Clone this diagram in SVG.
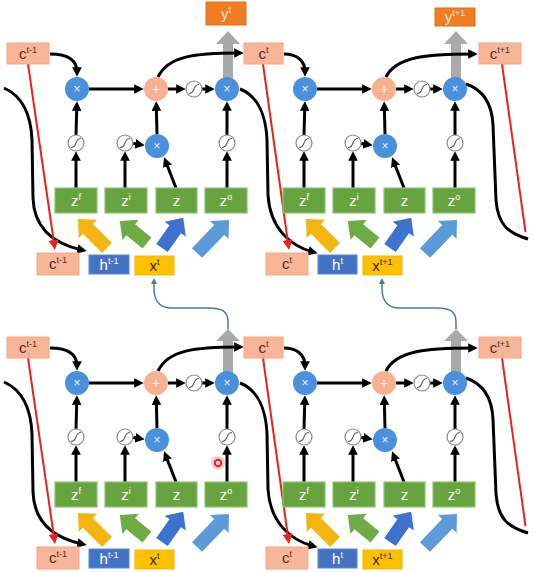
<svg xmlns="http://www.w3.org/2000/svg" xmlns:xlink="http://www.w3.org/1999/xlink" width="552" height="572" viewBox="0 0 552 572">
<style>
text{font-family:"Liberation Sans","DejaVu Sans",sans-serif;text-anchor:middle}
.sup{font-size:9px}
.cbox{fill:#f8b597;stroke:#f2a888;stroke-width:1}
.ct{fill:#4a3025;font-size:15px}
.ybox{fill:#ef7d22;stroke:#e27018;stroke-width:1}
.yt{fill:#fde6d4;font-size:15px}
.gate{fill:#67a43f;stroke:#92c472;stroke-width:1.2}
.gt{fill:#ffffff;font-size:15px}
.hbox{fill:#4472c4;stroke:#5a86d0;stroke-width:1}
.ht{fill:#ffffff;font-size:15px}
.xbox{fill:#ffc000;stroke:#f5b800;stroke-width:1}
.xt{fill:#3a2a00;font-size:15px}
.mul{fill:#4a90dc}
.add{fill:#f7b191}
.op{fill:#e4effb;font-size:12px}
.opa{fill:#fde8dc;font-size:14px}
.sc{fill:#ffffff;stroke:#8a8a8a;stroke-width:1.2}
.sp{fill:none;stroke:#666666;stroke-width:1.2}
.blk{fill:none;stroke:#000000;stroke-width:3;marker-end:url(#ah)}
.blkn{fill:none;stroke:#000000;stroke-width:3}
.red{fill:none;stroke:#e8231f;stroke-width:2;marker-end:url(#rh)}
.redn{fill:none;stroke:#e8231f;stroke-width:2}
.blu{fill:none;stroke:#4a78a8;stroke-width:1.5;marker-end:url(#bh)}
.gray{fill:#a9a9a9}
</style>
<defs>
<marker id="ah" viewBox="0 0 10 10" refX="5" refY="5" markerWidth="3.2" markerHeight="3.2" orient="auto"><path d="M0,0 L10,5 L0,10 z" fill="#000000"/></marker>
<marker id="rh" viewBox="0 0 10 10" refX="5" refY="5" markerWidth="5" markerHeight="5" orient="auto"><path d="M0,0 L10,5 L0,10 z" fill="#e8231f"/></marker>
<marker id="bh" viewBox="0 0 10 10" refX="5" refY="5" markerWidth="4" markerHeight="4" orient="auto"><path d="M0,0 L10,5 L0,10 z" fill="#4a78a8"/></marker>
<g id="sig"><circle class="sc" cx="0" cy="0" r="8"/><path class="sp" d="M-5,4.5 C-2,4.5 -1,3 0,0 C1,-3 2,-4.5 5,-4.5"/></g>
</defs>

<g id="connectors">
  <!-- gray output arrows -->
  <path class="gray" d="M228,31 L240,44 L233,44 L233,80 L223,80 L223,44 L216,44 Z"/>
  <path class="gray" d="M456,31 L468,44 L461,44 L461,80 L451,80 L451,44 L444,44 Z"/>
  <path class="gray" d="M228,329 L240,341 L233,341 L233,374 L223,374 L223,341 L216,341 Z"/>
  <path class="gray" d="M456,329 L468,341 L461,341 L461,374 L451,374 L451,341 L444,341 Z"/>
  <!-- blue links between layers -->
  <path class="blu" d="M228,329 L228,322 C228,311 222,308 208,308 L172,308 C158,308 154,300 154,288 L154,281"/>
  <path class="blu" d="M456,329 L456,322 C456,311 450,308 436,308 L400,308 C386,308 382,300 382,288 L382,281"/>

  <!-- row 1 / row 2 local connectors -->
  <g id="local" >
    <g transform="translate(0,0)">
      <path class="blk" d="M89,89 L139,89"/>
      <path class="blk" d="M168,89 L181,89"/>
      <path class="blk" d="M202,89 L210,89"/>
      <path class="blk" d="M76,188 L76,156"/>
      <path class="blk" d="M76,135 L76.8,106"/>
      <path class="blk" d="M125,188 L125,156"/>
      <path class="blk" d="M133,143.5 L140,144.6"/>
      <path class="blk" d="M176,188 L165.8,161.7"/>
      <path class="blk" d="M157,134 L156.3,106"/>
      <path class="blk" d="M227,188 L227,156"/>
      <path class="blk" d="M227,135 L227,106"/>
      <path fill="#f4b512" d="M0,-7 L27,-7 L27,-13 L41,0 L27,13 L27,7 L0,7 Z" transform="translate(107,248) rotate(-135)"/>
      <path fill="#6fac46" d="M0,-7 L21,-7 L21,-13 L35,0 L21,13 L21,7 L0,7 Z" transform="translate(147,243) rotate(-141)"/>
      <path fill="#3d72cf" d="M0,-7 L23,-7 L23,-13 L37,0 L23,13 L23,7 L0,7 Z" transform="translate(162,248) rotate(-55)"/>
      <path fill="#5b9bd9" d="M0,-7 L32,-7 L32,-13 L46,0 L32,13 L32,7 L0,7 Z" transform="translate(197,253) rotate(-46)"/>
    </g>
    <g transform="translate(228,0)">
      <path class="blk" d="M89,89 L139,89"/>
      <path class="blk" d="M168,89 L181,89"/>
      <path class="blk" d="M202,89 L210,89"/>
      <path class="blk" d="M76,188 L76,156"/>
      <path class="blk" d="M76,135 L76.8,106"/>
      <path class="blk" d="M125,188 L125,156"/>
      <path class="blk" d="M133,143.5 L140,144.6"/>
      <path class="blk" d="M176,188 L165.8,161.7"/>
      <path class="blk" d="M157,134 L156.3,106"/>
      <path class="blk" d="M227,188 L227,156"/>
      <path class="blk" d="M227,135 L227,106"/>
      <path fill="#f4b512" d="M0,-7 L27,-7 L27,-13 L41,0 L27,13 L27,7 L0,7 Z" transform="translate(107,248) rotate(-135)"/>
      <path fill="#6fac46" d="M0,-7 L21,-7 L21,-13 L35,0 L21,13 L21,7 L0,7 Z" transform="translate(147,243) rotate(-141)"/>
      <path fill="#3d72cf" d="M0,-7 L23,-7 L23,-13 L37,0 L23,13 L23,7 L0,7 Z" transform="translate(162,248) rotate(-55)"/>
      <path fill="#5b9bd9" d="M0,-7 L32,-7 L32,-13 L46,0 L32,13 L32,7 L0,7 Z" transform="translate(197,253) rotate(-46)"/>
    </g>
    <g transform="translate(0,294)">
      <path class="blk" d="M89,89 L139,89"/>
      <path class="blk" d="M168,89 L181,89"/>
      <path class="blk" d="M202,89 L210,89"/>
      <path class="blk" d="M76,188 L76,156"/>
      <path class="blk" d="M76,135 L76.8,106"/>
      <path class="blk" d="M125,188 L125,156"/>
      <path class="blk" d="M133,143.5 L140,144.6"/>
      <path class="blk" d="M176,188 L165.8,161.7"/>
      <path class="blk" d="M157,134 L156.3,106"/>
      <path class="blk" d="M227,188 L227,156"/>
      <path class="blk" d="M227,135 L227,106"/>
      <path fill="#f4b512" d="M0,-7 L27,-7 L27,-13 L41,0 L27,13 L27,7 L0,7 Z" transform="translate(107,248) rotate(-135)"/>
      <path fill="#6fac46" d="M0,-7 L21,-7 L21,-13 L35,0 L21,13 L21,7 L0,7 Z" transform="translate(147,243) rotate(-141)"/>
      <path fill="#3d72cf" d="M0,-7 L23,-7 L23,-13 L37,0 L23,13 L23,7 L0,7 Z" transform="translate(162,248) rotate(-55)"/>
      <path fill="#5b9bd9" d="M0,-7 L32,-7 L32,-13 L46,0 L32,13 L32,7 L0,7 Z" transform="translate(197,253) rotate(-46)"/>
    </g>
    <g transform="translate(228,294)">
      <path class="blk" d="M89,89 L139,89"/>
      <path class="blk" d="M168,89 L181,89"/>
      <path class="blk" d="M202,89 L210,89"/>
      <path class="blk" d="M76,188 L76,156"/>
      <path class="blk" d="M76,135 L76.8,106"/>
      <path class="blk" d="M125,188 L125,156"/>
      <path class="blk" d="M133,143.5 L140,144.6"/>
      <path class="blk" d="M176,188 L165.8,161.7"/>
      <path class="blk" d="M157,134 L156.3,106"/>
      <path class="blk" d="M227,188 L227,156"/>
      <path class="blk" d="M227,135 L227,106"/>
      <path fill="#f4b512" d="M0,-7 L27,-7 L27,-13 L41,0 L27,13 L27,7 L0,7 Z" transform="translate(107,248) rotate(-135)"/>
      <path fill="#6fac46" d="M0,-7 L21,-7 L21,-13 L35,0 L21,13 L21,7 L0,7 Z" transform="translate(147,243) rotate(-141)"/>
      <path fill="#3d72cf" d="M0,-7 L23,-7 L23,-13 L37,0 L23,13 L23,7 L0,7 Z" transform="translate(162,248) rotate(-55)"/>
      <path fill="#5b9bd9" d="M0,-7 L32,-7 L32,-13 L46,0 L32,13 L32,7 L0,7 Z" transform="translate(197,253) rotate(-46)"/>
    </g>
  </g>

  <!-- cross-cell connectors, both rows -->
  <g id="cross-top">
    <path class="blk" d="M50,54 C68,54 77,60 77,72"/>
    <path class="blk" d="M284,54 C296,54 305,60 305,72"/>
    <path class="blk" d="M158,77 C168,56 195,53 239,53"/>
    <path class="blk" d="M386,77 C396,57 425,54 473,54"/>
    <path class="blk" d="M4,88 C22,96 31,115 32,140 L33,198 C34,230 55,244 82,250"/>
    <path class="blk" d="M240,89 C258,96 266,116 267,140 L268,195 C270,228 290,246 313,252"/>
    <path class="blkn" d="M466,84 C484,90 492,105 493,125 L496,200 C498,225 508,233 528,239"/>
    <path class="red" d="M28,64 L54.3,245"/>
    <path class="red" d="M263,64 L288.3,245"/>
    <path class="redn" d="M502,64 L525.5,232"/>
  </g>
  <g id="cross-bottom" transform="translate(0,294)">
    <path class="blk" d="M50,54 C68,54 77,60 77,72"/>
    <path class="blk" d="M284,54 C296,54 305,60 305,72"/>
    <path class="blk" d="M158,77 C168,56 195,53 239,53"/>
    <path class="blk" d="M386,77 C396,57 425,54 473,54"/>
    <path class="blk" d="M4,88 C22,96 31,115 32,140 L33,198 C34,230 55,244 82,250"/>
    <path class="blk" d="M240,89 C258,96 266,116 267,140 L268,195 C270,228 290,246 313,252"/>
    <path class="blkn" d="M466,84 C484,90 492,105 493,125 L496,200 C498,225 508,233 528,239"/>
    <path class="red" d="M28,64 L54.3,245"/>
    <path class="red" d="M263,64 L288.3,245"/>
    <path class="redn" d="M502,64 L525.5,232"/>
  </g>
</g>

<!-- memory boxes, outputs -->
<g id="c-tm1-top"><rect class="cbox" x="7" y="43" width="42" height="21"/><text class="ct" x="28" y="59">c<tspan class="sup" dy="-6">t-1</tspan></text></g>
<g id="c-t-top"><rect class="cbox" x="244" y="43" width="39" height="21"/><text class="ct" x="263.5" y="59">c<tspan class="sup" dy="-6">t</tspan></text></g>
<g id="c-tp1-top"><rect class="cbox" x="479" y="43" width="42" height="21"/><text class="ct" x="500" y="59">c<tspan class="sup" dy="-6">t+1</tspan></text></g>
<g id="y-t"><rect class="ybox" x="206" y="2" width="40" height="23"/><text class="yt" x="226" y="19">y<tspan class="sup" dy="-6">t</tspan></text></g>
<g id="y-tp1"><rect class="ybox" x="435" y="8" width="40" height="18"/><text class="yt" x="455" y="22">y<tspan class="sup" dy="-6">t+1</tspan></text></g>
<g id="c-tm1-bot"><rect class="cbox" x="7" y="337" width="42" height="21"/><text class="ct" x="28" y="353">c<tspan class="sup" dy="-6">t-1</tspan></text></g>
<g id="c-t-bot"><rect class="cbox" x="244" y="337" width="39" height="21"/><text class="ct" x="263.5" y="353">c<tspan class="sup" dy="-6">t</tspan></text></g>
<g id="c-tp1-bot"><rect class="cbox" x="479" y="337" width="42" height="21"/><text class="ct" x="500" y="353">c<tspan class="sup" dy="-6">t+1</tspan></text></g>

<!-- cells -->
<g id="cell-top-1">
  <g id="t1-mulf"><circle class="mul" cx="77" cy="89" r="12"/><text class="op" x="77" y="93">×</text></g>
  <g id="t1-add"><circle class="add" cx="156" cy="89" r="12"/><text class="opa" x="156" y="94">+</text></g>
  <g id="t1-tanh"><use href="#sig" x="194" y="89"/></g>
  <g id="t1-mulo"><circle class="mul" cx="227" cy="89" r="12"/><text class="op" x="227" y="93">×</text></g>
  <g id="t1-sf"><use href="#sig" x="76" y="143"/></g>
  <g id="t1-si"><use href="#sig" x="125" y="143"/></g>
  <g id="t1-muli"><circle class="mul" cx="157" cy="146" r="12"/><text class="op" x="157" y="150">×</text></g>
  <g id="t1-so"><use href="#sig" x="227" y="143"/></g>
  <g id="t1-zf"><rect class="gate" x="55" y="188" width="42" height="25"/><text class="gt" x="76" y="206">z<tspan class="sup" dy="-6">f</tspan></text></g>
  <g id="t1-zi"><rect class="gate" x="105" y="188" width="42" height="25"/><text class="gt" x="126" y="206">z<tspan class="sup" dy="-6">i</tspan></text></g>
  <g id="t1-z"><rect class="gate" x="156" y="188" width="41" height="25"/><text class="gt" x="176.5" y="206">z</text></g>
  <g id="t1-zo"><rect class="gate" x="205" y="188" width="42" height="25"/><text class="gt" x="226" y="206">z<tspan class="sup" dy="-6">o</tspan></text></g>
  <g id="t1-cin"><rect class="cbox" x="37" y="253" width="42" height="22"/><text class="ct" x="58" y="269">c<tspan class="sup" dy="-6">t-1</tspan></text></g>
  <g id="t1-h"><rect class="hbox" x="89" y="255" width="40" height="19"/><text class="ht" x="109" y="270">h<tspan class="sup" dy="-6">t-1</tspan></text></g>
  <g id="t1-x"><rect class="xbox" x="135" y="256" width="39" height="19"/><text class="xt" x="154.5" y="271">x<tspan class="sup" dy="-6">t</tspan></text></g>
</g>
<g id="cell-top-2" transform="translate(228,0)">
  <g id="t2-mulf"><circle class="mul" cx="77" cy="89" r="12"/><text class="op" x="77" y="93">×</text></g>
  <g id="t2-add"><circle class="add" cx="156" cy="89" r="12"/><text class="opa" x="156" y="94">+</text></g>
  <g id="t2-tanh"><use href="#sig" x="194" y="89"/></g>
  <g id="t2-mulo"><circle class="mul" cx="227" cy="89" r="12"/><text class="op" x="227" y="93">×</text></g>
  <g id="t2-sf"><use href="#sig" x="76" y="143"/></g>
  <g id="t2-si"><use href="#sig" x="125" y="143"/></g>
  <g id="t2-muli"><circle class="mul" cx="157" cy="146" r="12"/><text class="op" x="157" y="150">×</text></g>
  <g id="t2-so"><use href="#sig" x="227" y="143"/></g>
  <g id="t2-zf"><rect class="gate" x="55" y="188" width="42" height="25"/><text class="gt" x="76" y="206">z<tspan class="sup" dy="-6">f</tspan></text></g>
  <g id="t2-zi"><rect class="gate" x="105" y="188" width="42" height="25"/><text class="gt" x="126" y="206">z<tspan class="sup" dy="-6">i</tspan></text></g>
  <g id="t2-z"><rect class="gate" x="156" y="188" width="41" height="25"/><text class="gt" x="176.5" y="206">z</text></g>
  <g id="t2-zo"><rect class="gate" x="205" y="188" width="42" height="25"/><text class="gt" x="226" y="206">z<tspan class="sup" dy="-6">o</tspan></text></g>
  <g id="t2-cin"><rect class="cbox" x="38" y="253" width="42" height="22"/><text class="ct" x="59" y="269">c<tspan class="sup" dy="-6">t</tspan></text></g>
  <g id="t2-h"><rect class="hbox" x="90" y="255" width="39" height="19"/><text class="ht" x="109.5" y="270">h<tspan class="sup" dy="-6">t</tspan></text></g>
  <g id="t2-x"><rect class="xbox" x="135" y="256" width="39" height="19"/><text class="xt" x="154.5" y="271">x<tspan class="sup" dy="-6">t+1</tspan></text></g>
</g>
<g id="cell-bot-1" transform="translate(0,294)">
  <g id="b1-mulf"><circle class="mul" cx="77" cy="89" r="12"/><text class="op" x="77" y="93">×</text></g>
  <g id="b1-add"><circle class="add" cx="156" cy="89" r="12"/><text class="opa" x="156" y="94">+</text></g>
  <g id="b1-tanh"><use href="#sig" x="194" y="89"/></g>
  <g id="b1-mulo"><circle class="mul" cx="227" cy="89" r="12"/><text class="op" x="227" y="93">×</text></g>
  <g id="b1-sf"><use href="#sig" x="76" y="143"/></g>
  <g id="b1-si"><use href="#sig" x="125" y="143"/></g>
  <g id="b1-muli"><circle class="mul" cx="157" cy="146" r="12"/><text class="op" x="157" y="150">×</text></g>
  <g id="b1-so"><use href="#sig" x="227" y="143"/></g>
  <g id="b1-zf"><rect class="gate" x="55" y="188" width="42" height="25"/><text class="gt" x="76" y="206">z<tspan class="sup" dy="-6">f</tspan></text></g>
  <g id="b1-zi"><rect class="gate" x="105" y="188" width="42" height="25"/><text class="gt" x="126" y="206">z<tspan class="sup" dy="-6">i</tspan></text></g>
  <g id="b1-z"><rect class="gate" x="156" y="188" width="41" height="25"/><text class="gt" x="176.5" y="206">z</text></g>
  <g id="b1-zo"><rect class="gate" x="205" y="188" width="42" height="25"/><text class="gt" x="226" y="206">z<tspan class="sup" dy="-6">o</tspan></text></g>
  <g id="b1-cin"><rect class="cbox" x="37" y="253" width="42" height="22"/><text class="ct" x="58" y="269">c<tspan class="sup" dy="-6">t-1</tspan></text></g>
  <g id="b1-h"><rect class="hbox" x="89" y="255" width="40" height="19"/><text class="ht" x="109" y="270">h<tspan class="sup" dy="-6">t-1</tspan></text></g>
  <g id="b1-x"><rect class="xbox" x="135" y="256" width="39" height="19"/><text class="xt" x="154.5" y="271">x<tspan class="sup" dy="-6">t</tspan></text></g>
</g>
<g id="cell-bot-2" transform="translate(228,294)">
  <g id="b2-mulf"><circle class="mul" cx="77" cy="89" r="12"/><text class="op" x="77" y="93">×</text></g>
  <g id="b2-add"><circle class="add" cx="156" cy="89" r="12"/><text class="opa" x="156" y="94">+</text></g>
  <g id="b2-tanh"><use href="#sig" x="194" y="89"/></g>
  <g id="b2-mulo"><circle class="mul" cx="227" cy="89" r="12"/><text class="op" x="227" y="93">×</text></g>
  <g id="b2-sf"><use href="#sig" x="76" y="143"/></g>
  <g id="b2-si"><use href="#sig" x="125" y="143"/></g>
  <g id="b2-muli"><circle class="mul" cx="157" cy="146" r="12"/><text class="op" x="157" y="150">×</text></g>
  <g id="b2-so"><use href="#sig" x="227" y="143"/></g>
  <g id="b2-zf"><rect class="gate" x="55" y="188" width="42" height="25"/><text class="gt" x="76" y="206">z<tspan class="sup" dy="-6">f</tspan></text></g>
  <g id="b2-zi"><rect class="gate" x="105" y="188" width="42" height="25"/><text class="gt" x="126" y="206">z<tspan class="sup" dy="-6">i</tspan></text></g>
  <g id="b2-z"><rect class="gate" x="156" y="188" width="41" height="25"/><text class="gt" x="176.5" y="206">z</text></g>
  <g id="b2-zo"><rect class="gate" x="205" y="188" width="42" height="25"/><text class="gt" x="226" y="206">z<tspan class="sup" dy="-6">o</tspan></text></g>
  <g id="b2-cin"><rect class="cbox" x="38" y="253" width="42" height="22"/><text class="ct" x="59" y="269">c<tspan class="sup" dy="-6">t</tspan></text></g>
  <g id="b2-h"><rect class="hbox" x="90" y="255" width="39" height="19"/><text class="ht" x="109.5" y="270">h<tspan class="sup" dy="-6">t</tspan></text></g>
  <g id="b2-x"><rect class="xbox" x="135" y="256" width="39" height="19"/><text class="xt" x="154.5" y="271">x<tspan class="sup" dy="-6">t+1</tspan></text></g>
</g>

<g id="pointer"><circle cx="218" cy="463" r="7" fill="#f26d6d" opacity="0.35"/><circle cx="218" cy="463" r="3.2" fill="#fde0e0" stroke="#e02424" stroke-width="2"/></g>
</svg>
